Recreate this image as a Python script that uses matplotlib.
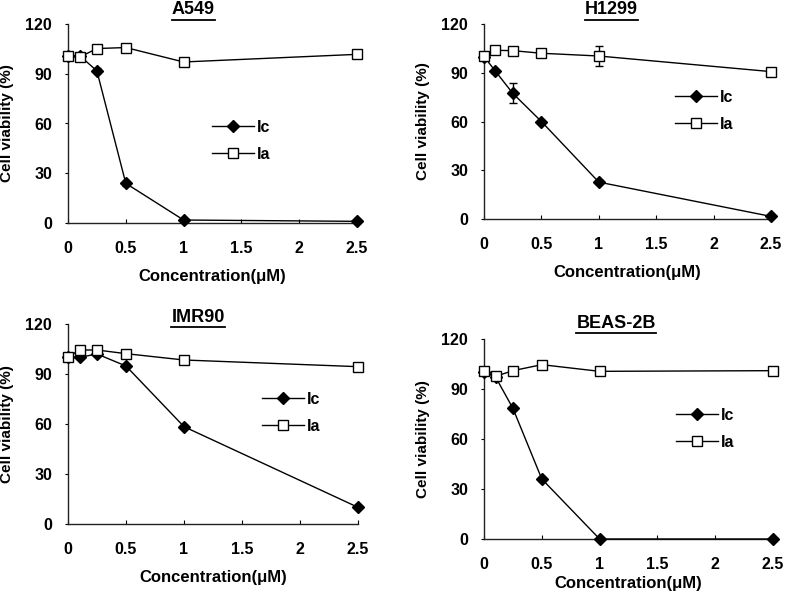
import matplotlib
matplotlib.use("Agg")
import matplotlib.pyplot as plt
from matplotlib.lines import Line2D

plt.rcParams['font.family'] = ['Liberation Sans', 'DejaVu Sans']
plt.rcParams['font.weight'] = 'bold'

conc = [0, 0.1, 0.25, 0.5, 1, 2.5]
x_ticks = [0, 0.5, 1, 1.5, 2, 2.5]
x_tick_labels = ['0', '0.5', '1', '1.5', '2', '2.5']
y_ticks = [0, 30, 60, 90, 120]

titles = ['A549', 'H1299', 'IMR90', 'BEAS-2B']

ic_a549 = [101, 101, 91.7, 23.9, 1.8, 1.0]
ia_a549 = [100.7, 100, 105.2, 105.8, 97.1, 101.7]
ic_err_a549 = [0, 1, 1.5, 1.5, 0.5, 0.5]
ia_err_a549 = [0, 1.5, 2, 1.5, 2, 2]

ic_h1299 = [100, 90.9, 77.4, 60, 22.7, 1.6]
ia_h1299 = [100.3, 103.8, 103.6, 102, 100.3, 90.7]
ic_err_h1299 = [0, 1, 6, 1, 1, 0.5]
ia_err_h1299 = [0, 1.5, 2, 2, 6, 1.5]

ic_imr90 = [100, 100, 102, 94.8, 58.4, 10]
ia_imr90 = [100.2, 104.4, 104.4, 102.2, 98.4, 94.4]
ic_err_imr90 = [0, 1, 1, 1, 1, 0.5]
ia_err_imr90 = [0, 2, 2.5, 1, 1, 1.5]

ic_beas = [100, 97.2, 78.4, 36, 0, 0]
ia_beas = [100.6, 97.6, 101, 104.6, 100.6, 101]
ic_err_beas = [0, 1, 1, 1, 0, 0]
ia_err_beas = [0, 1, 1, 1, 1, 1]

W, H = 786, 600
fig = plt.figure(figsize=(W / 100, H / 100), dpi=100)

# (left, right, top, bottom) in pixels
boxes = [(68, 357, 24, 223), (484, 771, 24, 219), (68, 358, 324, 524), (484, 773, 339, 539)]
title_pos = [(193, 10), (611, 10), (198, 317), (616, 323)]
legend_pos = [(212, 128), (675, 98), (262, 400), (676, 416)]
xlabel_pads = [9, 9, 9, 3]

data = [
    (ic_a549, ia_a549, ic_err_a549, ia_err_a549),
    (ic_h1299, ia_h1299, ic_err_h1299, ia_err_h1299),
    (ic_imr90, ia_imr90, ic_err_imr90, ia_err_imr90),
    (ic_beas, ia_beas, ic_err_beas, ia_err_beas),
]

FS = 11.5
title_texts = []
for i, (l, r, t, b) in enumerate(boxes):
    ax = fig.add_axes([l / W, 1 - b / H, (r - l) / W, (b - t) / H])
    ic, ia, ice, iae = data[i]
    ax.errorbar(conc, ic, yerr=ice, color='black', lw=1, marker='D', ms=6,
                mfc='black', mec='black', capsize=3, elinewidth=1,
                zorder=3, clip_on=False)
    ax.errorbar(conc, ia, yerr=iae, color='black', lw=1, marker='s', ms=7.5,
                mfc='white', mec='black', mew=1, capsize=3, elinewidth=1,
                zorder=4, clip_on=False)
    ax.set_xlim(0, 2.5)
    ax.set_ylim(0, 120)
    ax.set_xticks(x_ticks)
    ax.set_xticklabels(x_tick_labels)
    ax.set_yticks(y_ticks)
    for s in ['top', 'right']:
        ax.spines[s].set_visible(False)
    for s in ['left', 'bottom']:
        ax.spines[s].set_linewidth(1)
        ax.spines[s].set_color('#222222')
    ax.tick_params(axis='x', direction='in', length=3, pad=13, labelsize=FS)
    ax.tick_params(axis='y', direction='out', length=2.5, pad=9, labelsize=FS)
    for lab in ax.get_xticklabels() + ax.get_yticklabels():
        lab.set_fontweight('bold')
    ax.set_xlabel('Concentration(μM)', fontsize=FS + 0.5, fontweight='bold',
                  labelpad=xlabel_pads[i])
    ax.set_ylabel('Cell viability (%)', fontsize=FS - 0.5, fontweight='bold', labelpad=8)
    h_ic = Line2D([], [], color='black', lw=1, marker='D', ms=6, mfc='black', mec='black')
    h_ia = Line2D([], [], color='black', lw=1, marker='s', ms=7.5, mfc='white', mec='black')
    lx, ly = legend_pos[i]
    ax.legend([h_ic, h_ia], ['Ic', 'Ia'],
              loc='upper left', bbox_to_anchor=(lx / W, 1 - (ly - 8) / H),
              bbox_transform=fig.transFigure, frameon=False, borderpad=0,
              borderaxespad=0, handlelength=2.6, handletextpad=0.2,
              labelspacing=0.75, prop={'size': FS, 'weight': 'bold'})
    tx, ty = title_pos[i]
    tt = fig.text(tx / W, 1 - ty / H, titles[i], ha='center', va='center',
                  fontsize=13, fontweight='bold')
    title_texts.append(tt)

fig.canvas.draw()
renderer = fig.canvas.get_renderer()
for tt in title_texts:
    bb = tt.get_window_extent(renderer=renderer)
    y = (bb.y0 - 1.5) / H
    fig.add_artist(Line2D([bb.x0 / W, bb.x1 / W], [y, y], transform=fig.transFigure,
                          color='black', lw=1.3))

fig.savefig('out.png', dpi=100)
